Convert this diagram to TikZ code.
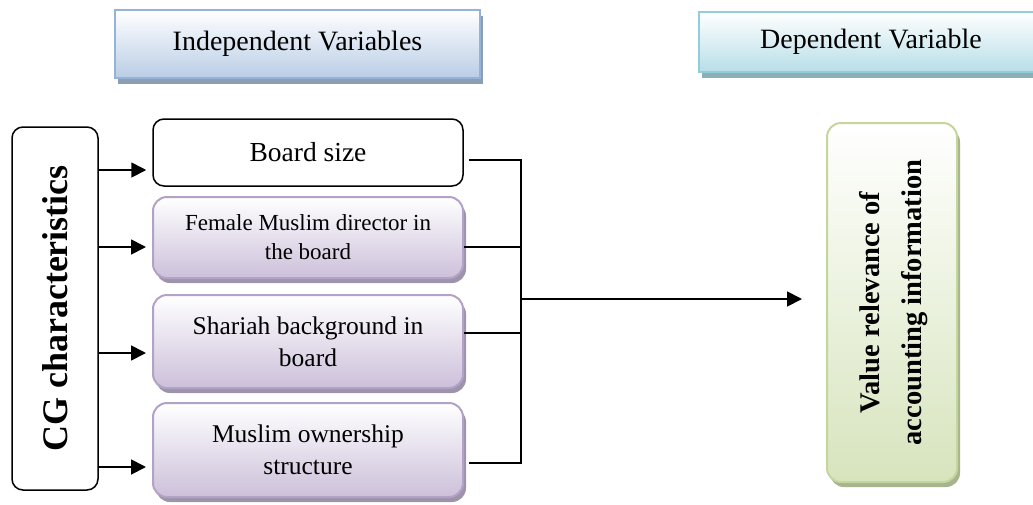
\documentclass[tikz,border=0pt]{standalone}
\usepackage{fontspec}
\setmainfont{Liberation Serif}
\usetikzlibrary{shadows,arrows.meta,calc}
\definecolor{indepB}{HTML}{95B3D7}
\definecolor{indepF}{HTML}{B9CDE5}
\definecolor{depB}{HTML}{92CDDC}
\definecolor{depF}{HTML}{B7DEE8}
\definecolor{purpB}{HTML}{B3A2C7}
\definecolor{purpF}{HTML}{CCC0DA}
\definecolor{greenB}{HTML}{C3D69B}
\definecolor{greenF}{HTML}{D7E4BD}
\begin{document}
\begin{tikzpicture}[x=1pt,y=-1pt,
  header/.style={line width=2.5pt, inner sep=0pt, align=center,
    top color=white, bottom color=#1F, draw=#1B,
    font=\fontsize{28}{33}\selectfont,
    drop shadow={shadow xshift=3pt, shadow yshift=-6pt, fill=#1B!60!gray, opacity=1}},
  plainbox/.style={draw=black, fill=white, line width=1.5pt, rounded corners=11pt,
    inner sep=0pt, align=center},
  fancybox/.style={draw=#1B, line width=2pt, rounded corners=14pt, inner sep=0pt,
    align=center, top color=white, bottom color=#1F,
    drop shadow={shadow xshift=3pt, shadow yshift=-5pt, fill=#1B!60!gray, opacity=1}},
  arr/.style={-{Triangle[length=15pt,width=15pt]}, line width=1.8pt},
  ln/.style={line width=1.8pt}]
\clip (0,0) rectangle (1033,504);

% headers
\node[header=indep, minimum width=365, minimum height=68] (indep) at (297.5,44)
  {Independent Variables};
\node[header=dep, minimum width=344, minimum height=60] (dep) at (871,42)
  {Dependent Variable};

% left box
\node[plainbox, minimum width=86, minimum height=363] (cg) at (55,308.5)
  {\rotatebox{90}{\fontsize{36}{42}\selectfont\bfseries CG characteristics}};

% independent variable boxes
\node[plainbox, minimum width=310, minimum height=67,
  font=\fontsize{27.5}{33}\selectfont] (board) at (308,152.5) {Board size};
\node[fancybox=purp, minimum width=310, minimum height=81,
  font=\fontsize{23}{29}\selectfont] (fem) at (308,237.5)
  {Female Muslim director in\\the board};
\node[fancybox=purp, minimum width=310, minimum height=93,
  font=\fontsize{25.5}{32}\selectfont] (sha) at (308,341.5)
  {Shariah background in\\board};
\node[fancybox=purp, minimum width=310, minimum height=94,
  font=\fontsize{25.5}{32}\selectfont] (mus) at (308,450)
  {Muslim ownership\\structure};

% dependent variable box
\node[fancybox=green, minimum width=130, minimum height=359] (val) at (892,302.5)
  {\rotatebox{90}{\fontsize{28.5}{42}\selectfont\bfseries
   \begin{tabular}{@{}c@{}}Value relevance of\\accounting information\end{tabular}}};

% arrows from CG box
\draw[arr, shorten >=6pt] (cg.east |- 0,170) -- (board.west |- 0,170);
\draw[arr, shorten >=6pt] (cg.east |- 0,247) -- (fem.west |- 0,247);
\draw[arr, shorten >=6pt] (cg.east |- 0,353) -- (sha.west |- 0,353);
\draw[arr, shorten >=6pt] (cg.east |- 0,467) -- (mus.west |- 0,467);

% bus
\coordinate (bus) at (521,299);
\draw[ln] ($(board.east)+(5,7.5)$) -| (bus);
\draw[ln] ($(mus.east)+(5,13)$) -| (bus);
\draw[ln] (fem.east) ++(0,9.5) coordinate (f1) -- (f1 -| bus);
\draw[ln] (sha.east) ++(0,-8.5) coordinate (s1) -- (s1 -| bus);
\draw[arr, shorten >=24pt] (bus) -- (val.west |- bus);
\end{tikzpicture}
\end{document}
